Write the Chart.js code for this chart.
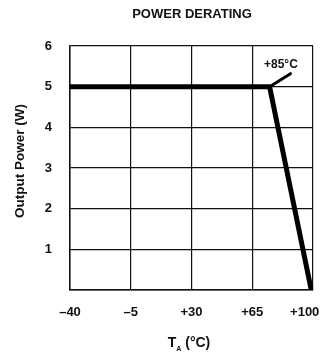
<!DOCTYPE html>
<html>
<head>
<meta charset="utf-8">
<script src="https://cdn.jsdelivr.net/npm/chart.js@4"></script>
<style>
  html, body { margin: 0; padding: 0; background: #fff; }
  #wrap { width: 324px; height: 354px; }
</style>
</head>
<body>
<div id="wrap"><canvas id="derating"></canvas></div>
<script>
// curva de derating
const tempC = [-40, 75, 99];
const powerW = [5, 5, 0];
const leaderX = [75, 87];
const leaderY = [5, 5.32];
const xTickValues = [-40, -5, 30, 65, 100];
const xTickLabels = ['\u201340', '\u20135', '+30', '+65', '+100\u2002\u2002 '];
const yTickLabels = ['', '1', '2', '3', '4', '5', '6'];

const FONT = '"Liberation Sans", Arial, sans-serif';

// textos fixos: titulo, nome dos eixos e rotulo +85°C
const textPlugin = {
  id: 'textos',
  afterDraw(chart) {
    const ctx = chart.ctx;
    const { scales } = chart;
    ctx.save();
    ctx.fillStyle = '#111';
    ctx.textAlign = 'center';
    ctx.textBaseline = 'middle';
    ctx.font = 'bold 13px ' + FONT;
    ctx.fillText('POWER DERATING', 192, 14);

    // eixo y
    ctx.save();
    ctx.translate(20, 161);
    ctx.rotate(-Math.PI / 2);
    ctx.font = 'bold 13.5px ' + FONT;
    ctx.fillText('Output Power (W)', 0, 0);
    ctx.restore();

    // eixo x: T com subscrito A
    ctx.textAlign = 'left';
    ctx.textBaseline = 'alphabetic';
    const t = 'T', rest = ' (\u00b0C)';
    ctx.font = 'bold 7px ' + FONT;
    const wA = ctx.measureText('A').width;
    ctx.font = 'bold 14px ' + FONT;
    const wT = ctx.measureText(t).width;
    const wR = ctx.measureText(rest).width;
    let x0 = 189 - (wT + wA + wR) / 2;
    ctx.fillText(t, x0, 347);
    ctx.font = 'bold 7px ' + FONT;
    ctx.fillText('A', x0 + wT, 351);
    ctx.font = 'bold 14px ' + FONT;
    ctx.fillText(rest, x0 + wT + wA, 347);

    // rotulo da quebra
    ctx.textAlign = 'center';
    ctx.textBaseline = 'middle';
    ctx.font = 'bold 12px ' + FONT;
    ctx.fillText('+85\u00b0C', scales.x.getPixelForValue(81.5), scales.y.getPixelForValue(5.55));
    ctx.restore();
  }
};

const ctx = document.getElementById('derating').getContext('2d');
new Chart(ctx, {
  type: 'scatter',
  data: {
    datasets: [{
      data: tempC.map((x, i) => ({ x: x, y: powerW[i] })),
      showLine: true,
      borderColor: '#000',
      borderWidth: 5,
      borderCapStyle: 'round',
      borderJoinStyle: 'round',
      pointRadius: 0
    }, {
      data: leaderX.map((x, i) => ({ x: x, y: leaderY[i] })),
      showLine: true,
      borderColor: '#000',
      borderWidth: 3,
      borderCapStyle: 'round',
      pointRadius: 0
    }]
  },
  options: {
    responsive: true,
    maintainAspectRatio: false,
    animation: false,
    layout: { padding: { top: 46, right: 11, left: 0, bottom: 0 } },
    plugins: {
      legend: { display: false },
      tooltip: { enabled: false },
      title: { display: false }
    },
    scales: {
      x: {
        type: 'linear',
        min: -40,
        max: 100,
        afterBuildTicks: (axis) => { axis.ticks = xTickValues.map(v => ({ value: v })); },
        afterFit: (axis) => {
          axis.height = 64;
          axis.paddingLeft = 0;
          axis.paddingRight = 0;
        },
        grid: { color: '#111', lineWidth: 1.2, drawTicks: false },
        border: { color: '#111', width: 1.5 },
        ticks: {
          color: '#111',
          padding: 15,
          maxRotation: 0,
          font: { family: FONT, size: 13, weight: 'bold' },
          callback: (v) => xTickLabels[xTickValues.indexOf(v)]
        }
      },
      y: {
        min: 0,
        max: 6,
        afterFit: (axis) => {
          axis.width = 70;
          axis.paddingTop = 0;
          axis.paddingBottom = 0;
        },
        grid: { color: '#111', lineWidth: 1.2, drawTicks: false },
        border: { color: '#111', width: 1.5 },
        ticks: {
          stepSize: 1,
          color: '#111',
          padding: 18,
          font: { family: FONT, size: 13, weight: 'bold' },
          callback: (v) => yTickLabels[v]
        }
      }
    }
  },
  plugins: [textPlugin]
});
</script>
</body>
</html>
